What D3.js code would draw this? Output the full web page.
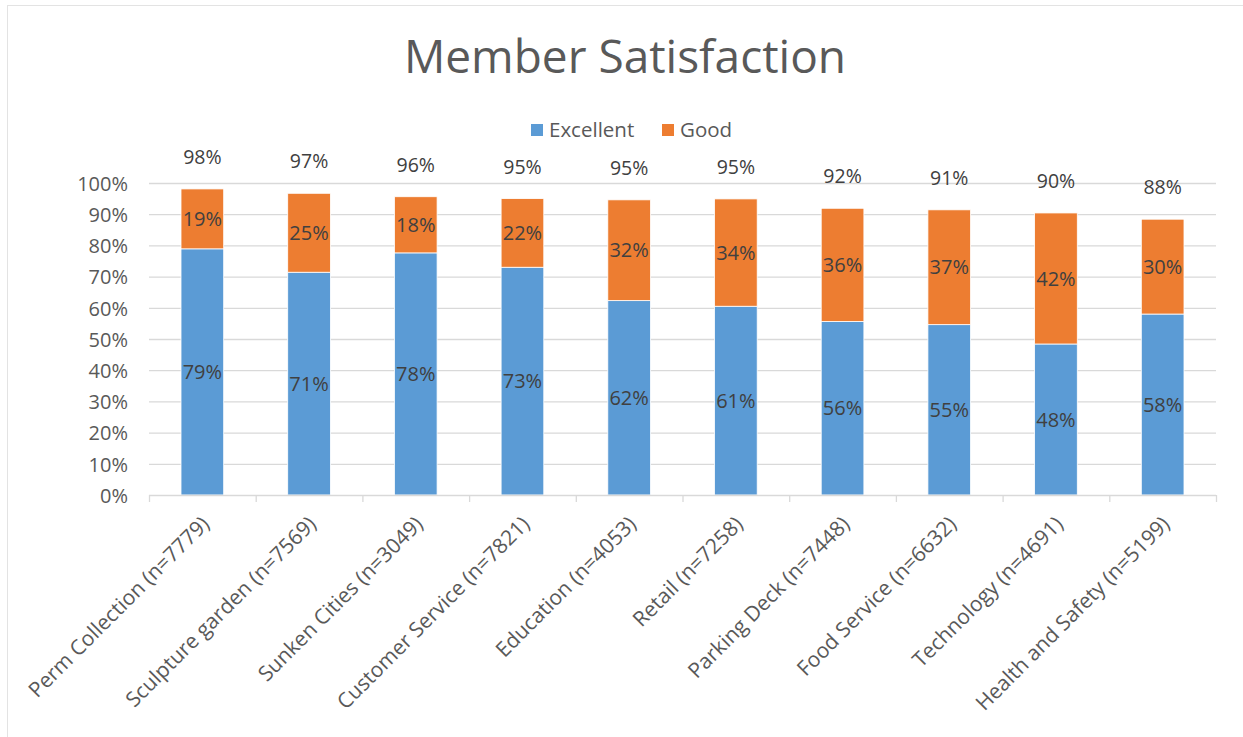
<!DOCTYPE html>
<html>
<head>
<meta charset="utf-8">
<script src="https://cdn.jsdelivr.net/npm/d3@7"></script>
<style>
  body { margin: 0; background: #fff; }
  text { font-family: "Open Sans", "Noto Sans", sans-serif; }
</style>
</head>
<body>
<script>
// Datos
const categories = ["Perm Collection (n=7779)", "Sculpture garden (n=7569)", "Sunken Cities (n=3049)",
  "Customer Service (n=7821)", "Education (n=4053)", "Retail (n=7258)", "Parking Deck (n=7448)",
  "Food Service (n=6632)", "Technology (n=4691)", "Health and Safety (n=5199)"];
const excellent = [0.789, 0.714, 0.776, 0.730, 0.623, 0.605, 0.556, 0.546, 0.484, 0.580];
const good      = [0.192, 0.253, 0.180, 0.220, 0.323, 0.344, 0.363, 0.368, 0.420, 0.304];
const seriesNames = ["Excellent", "Good"];
const yTicks = [0, 0.1, 0.2, 0.3, 0.4, 0.5, 0.6, 0.7, 0.8, 0.9, 1.0];

const width = 1243, height = 737;
const colors = { Excellent: "#5B9BD5", Good: "#ED7D31" };
const pct = d3.format(".0%");

const svg = d3.select("body").append("svg")
    .attr("width", width)
    .attr("height", height);

// Borde del área del gráfico
svg.append("rect")
    .attr("x", 7.5).attr("y", 5.5)
    .attr("width", width + 20).attr("height", height + 20)
    .attr("fill", "#fff")
    .attr("stroke", "#e3e3e3");

// Escalas
const x = d3.scaleBand()
    .domain(categories)
    .range([149, 1216])
    .paddingInner(0.6)
    .paddingOuter(0.3);
const y = d3.scaleLinear().domain([0, 1]).range([495, 183]);

// Líneas de cuadrícula
svg.append("g")
    .selectAll("line")
    .data(yTicks.slice(1))
    .join("line")
    .attr("x1", 149).attr("x2", 1216)
    .attr("y1", d => y(d) + 0.5).attr("y2", d => y(d) + 0.5)
    .attr("stroke", "#d9d9d9")
    .attr("stroke-width", 1.3);

// Eje Y
const yAxis = svg.append("g")
    .attr("transform", "translate(128,0)")
    .call(d3.axisLeft(y).tickValues(yTicks).tickFormat(pct).tickSize(0).tickPadding(0));
yAxis.select(".domain").remove();
yAxis.selectAll("text")
    .attr("fill", "#595959")
    .attr("font-size", 20)
    .attr("font-family", "'Open Sans', sans-serif")
    .attr("dy", "0.36em")
    .attr("text-anchor", "end");

// Pilas
const table = categories.map((c, i) => ({ cat: c, Excellent: excellent[i], Good: good[i] }));
const stacked = d3.stack().keys(seriesNames)(table);

svg.append("g")
    .selectAll("g")
    .data(stacked)
    .join("g")
    .attr("fill", d => colors[d.key])
    .selectAll("rect")
    .data(d => d)
    .join("rect")
    .attr("x", d => x(d.data.cat))
    .attr("width", x.bandwidth())
    .attr("y", d => y(d[1]))
    .attr("height", d => y(d[0]) - y(d[1]))
    .attr("stroke", "#fff")
    .attr("stroke-width", 0.8);

// Etiquetas de segmento
stacked.forEach(layer => {
  svg.append("g")
    .selectAll("text")
    .data(layer)
    .join("text")
    .attr("x", d => x(d.data.cat) + x.bandwidth() / 2)
    .attr("y", d => (y(d[0]) + y(d[1])) / 2)
    .attr("dy", "0.36em")
    .attr("text-anchor", "middle")
    .attr("font-size", 20)
    .attr("fill", "#404040")
    .text(d => pct(d[1] - d[0]));
});

// Etiquetas de total
svg.append("g")
    .selectAll("text")
    .data(table)
    .join("text")
    .attr("x", d => x(d.cat) + x.bandwidth() / 2)
    .attr("y", d => y(d.Excellent + d.Good) - 32)
    .attr("dy", "0.36em")
    .attr("text-anchor", "middle")
    .attr("font-size", 19.5)
    .attr("fill", "#404040")
    .text(d => pct(d.Excellent + d.Good));

// Eje X (línea base y marcas)
const step = x.step();
svg.append("line")
    .attr("x1", 149).attr("x2", 1216)
    .attr("y1", 495.5).attr("y2", 495.5)
    .attr("stroke", "#d9d9d9").attr("stroke-width", 1.3);
svg.append("g")
    .selectAll("line")
    .data(d3.range(categories.length + 1))
    .join("line")
    .attr("x1", i => 149 + i * step + 0.5).attr("x2", i => 149 + i * step + 0.5)
    .attr("y1", 495).attr("y2", 502)
    .attr("stroke", "#d9d9d9").attr("stroke-width", 1.3);

// Etiquetas del eje X rotadas
svg.append("g")
    .selectAll("text")
    .data(categories)
    .join("text")
    .attr("transform", d => `translate(${x(d) + x.bandwidth() / 2 + 3},${520}) rotate(-45)`)
    .attr("text-anchor", "end")
    .attr("dy", "0.36em")
    .attr("font-size", 21)
    .attr("fill", "#595959")
    .text(d => d);

// Título
svg.append("text")
    .attr("x", 625).attr("y", 73)
    .attr("text-anchor", "middle")
    .attr("font-size", 46)
    .attr("fill", "#595959")
    .text("Member Satisfaction");

// Leyenda
const legendX = [531, 662];
const legend = svg.append("g")
    .selectAll("g")
    .data(seriesNames)
    .join("g")
    .attr("transform", (d, i) => `translate(${legendX[i]},124)`);
legend.append("rect")
    .attr("width", 12).attr("height", 12)
    .attr("fill", d => colors[d]);
legend.append("text")
    .attr("x", 18).attr("y", 6)
    .attr("dy", "0.36em")
    .attr("font-size", 20.5)
    .attr("fill", "#595959")
    .text(d => d);
</script>
</body>
</html>
